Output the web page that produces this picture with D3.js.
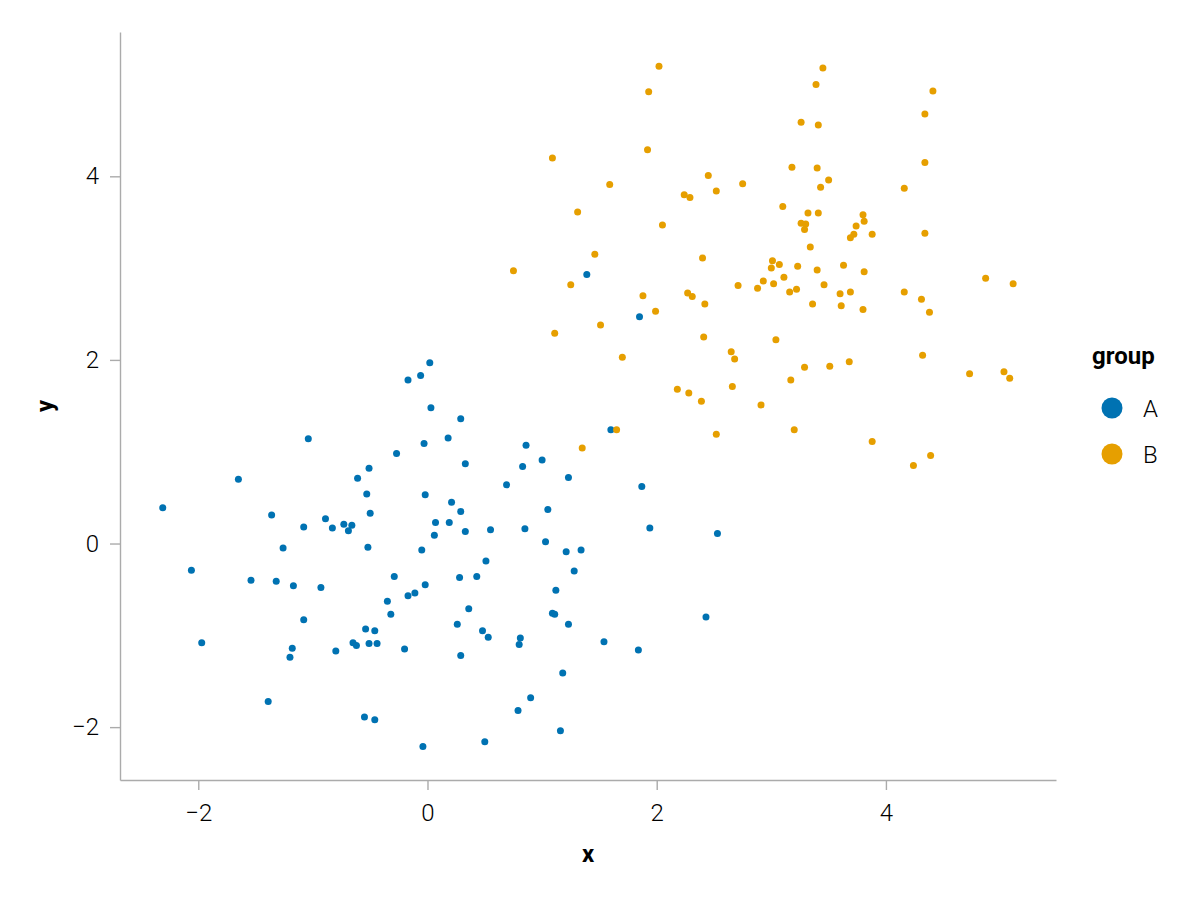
<!DOCTYPE html>
<html>
<head>
<meta charset="utf-8">
<script src="https://cdn.jsdelivr.net/npm/d3@7"></script>
<style>
  body { margin: 0; background: #fff; }
  .chart text { font-family: Roboto, "Open Sans", "DejaVu Sans", sans-serif; }
  .axis path, .axis line { stroke: #ababab; stroke-width: 1.4; }
  .axis text { font-size: 24px; font-weight: 300; fill: #000; }
</style>
</head>
<body>
<div class="chart"></div>
<script>
var groupNames = ['A', 'B'];
var xTicks = [-2, 0, 2, 4];
var yTicks = [-2, 0, 2, 4];

// group A
var xA = [-1.04,-1.65,-2.31,-1.36,-0.89,-1.08,-1.26,-2.06,-1.54,-1.32,-1.17,-0.93,-1.08,-1.97,-1.18,-1.20,-1.39,
  0.02,-0.06,-0.17,0.03,0.29,0.18,-0.03,-0.27,0.86,0.83,-0.51,0.33,-0.61,0.69,-0.53,-0.02,0.21,0.29,-0.50,-0.83,
  -0.73,-0.66,-0.69,0.07,0.19,0.06,0.33,0.55,0.85,-0.52,-0.05,0.51,-0.29,0.28,0.43,-0.02,-0.11,-0.17,-0.35,-0.32,
  0.36,0.26,0.48,0.53,-0.54,-0.46,0.81,0.80,-0.65,-0.62,-0.51,-0.44,-0.80,-0.20,0.29,0.79,-0.55,-0.46,-0.04,0.50,
  1.39,1.85,1.60,1.00,1.23,1.87,1.05,1.94,2.53,1.03,1.21,1.34,1.28,1.12,1.09,1.11,1.23,1.54,1.84,2.43,1.18,0.90,1.16];
var yA = [1.14,0.70,0.39,0.31,0.27,0.18,-0.05,-0.29,-0.40,-0.41,-0.46,-0.48,-0.83,-1.08,-1.14,-1.24,-1.72,
  1.97,1.83,1.78,1.48,1.36,1.15,1.09,0.98,1.07,0.84,0.82,0.87,0.71,0.64,0.54,0.53,0.45,0.35,0.33,0.17,
  0.21,0.20,0.14,0.23,0.23,0.09,0.13,0.15,0.16,-0.04,-0.07,-0.19,-0.36,-0.37,-0.36,-0.45,-0.54,-0.57,-0.63,-0.77,
  -0.71,-0.88,-0.95,-1.02,-0.93,-0.95,-1.03,-1.10,-1.08,-1.11,-1.09,-1.09,-1.17,-1.15,-1.22,-1.82,-1.89,-1.92,-2.21,-2.16,
  2.93,2.47,1.24,0.91,0.72,0.62,0.37,0.17,0.11,0.02,-0.09,-0.07,-0.30,-0.51,-0.76,-0.77,-0.88,-1.07,-1.16,-0.80,-1.41,-1.68,-2.04];

// group B
var xB = [1.25,1.88,2.27,2.31,2.42,1.99,1.51,1.11,2.41,1.70,2.18,2.28,2.39,1.65,1.35,2.52,0.75,
  2.02,1.93,1.92,1.09,2.45,1.59,2.52,2.24,2.29,1.31,2.05,1.46,2.40,
  3.45,3.39,3.26,3.41,3.18,3.40,3.50,2.75,3.43,3.10,3.32,3.41,3.80,3.81,3.26,3.30,3.29,3.74,3.72,3.69,3.88,3.34,
  3.01,3.00,3.07,3.23,3.40,3.63,3.81,2.71,2.93,2.88,3.02,3.11,3.22,3.16,3.46,3.60,3.69,3.36,3.61,3.80,
  3.04,2.65,2.68,3.29,3.51,3.68,3.17,2.66,2.91,3.20,3.88,
  4.41,4.34,4.34,4.16,4.34,4.87,5.11,4.16,4.31,4.38,4.32,4.73,5.03,5.08,4.39,4.24];
var yB = [2.82,2.70,2.73,2.69,2.61,2.53,2.38,2.29,2.25,2.03,1.68,1.64,1.55,1.24,1.04,1.19,2.97,
  5.20,4.92,4.29,4.20,4.01,3.91,3.84,3.80,3.77,3.61,3.47,3.15,3.11,
  5.18,5.00,4.59,4.56,4.10,4.09,3.96,3.92,3.88,3.67,3.60,3.60,3.58,3.51,3.49,3.48,3.42,3.46,3.37,3.33,3.37,3.23,
  3.08,3.00,3.04,3.02,2.98,3.03,2.96,2.81,2.86,2.78,2.83,2.90,2.77,2.74,2.82,2.72,2.74,2.61,2.59,2.55,
  2.22,2.09,2.01,1.92,1.93,1.98,1.78,1.71,1.51,1.24,1.11,
  4.93,4.68,4.15,3.87,3.38,2.89,2.83,2.74,2.66,2.52,2.05,1.85,1.87,1.80,0.96,0.85];

var WIDTH = 1200, HEIGHT = 900;
var LEFT = 120, RIGHT = 1056, TOP = 32, BOTTOM = 780;

var toPoints = function(xs, ys, g) {
  return xs.map(function(x, i) { return {x: x, y: ys[i], group: g}; });
};
var points = toPoints(xA, yA, 'A').concat(toPoints(xB, yB, 'B'));

var xScale = d3.scaleLinear().domain([-2.683, 5.484]).range([LEFT, RIGHT]);
var yScale = d3.scaleLinear().domain([-2.576, 5.572]).range([BOTTOM, TOP]);
var color = d3.scaleOrdinal().domain(groupNames).range(['#0072b2', '#e69f00']);

var svg = d3.select('.chart').append('svg')
  .attr('width', WIDTH)
  .attr('height', HEIGHT);

var xAxis = d3.axisBottom(xScale).tickValues(xTicks).tickSize(10).tickSizeOuter(0).tickPadding(14);
var yAxis = d3.axisLeft(yScale).tickValues(yTicks).tickSize(10).tickSizeOuter(0).tickPadding(11);

svg.append('g').attr('class', 'axis')
  .attr('transform', 'translate(0,' + BOTTOM + ')')
  .call(xAxis);
svg.append('g').attr('class', 'axis')
  .attr('transform', 'translate(' + LEFT + ',0)')
  .call(yAxis);

svg.append('g')
  .selectAll('circle').data(points)
  .enter()
  .append('circle')
  .attr('cx', function(d) { return xScale(d.x); })
  .attr('cy', function(d) { return yScale(d.y); })
  .attr('r', 3.5)
  .attr('fill', function(d) { return color(d.group); });

// axis titles
svg.append('text')
  .attr('x', (LEFT + RIGHT) / 2)
  .attr('y', 862)
  .attr('text-anchor', 'middle')
  .style('font-size', '24px')
  .style('font-weight', 700)
  .text('x');

svg.append('text')
  .attr('transform', 'translate(53,' + (TOP + BOTTOM) / 2 + ') rotate(-90)')
  .attr('text-anchor', 'middle')
  .style('font-size', '24px')
  .style('font-weight', 700)
  .text('y');

// legend
var legend = svg.append('g');
legend.append('text')
  .attr('x', 1092)
  .attr('y', 364)
  .style('font-size', '24px')
  .style('font-weight', 700)
  .text('group');

var items = legend.selectAll('g.item').data(groupNames)
  .enter()
  .append('g')
  .attr('class', 'item')
  .attr('transform', function(d, i) { return 'translate(1112,' + (408 + i * 46) + ')'; });

items.append('circle')
  .attr('r', 10.5)
  .attr('fill', function(d) { return color(d); });

items.append('text')
  .attr('x', 31)
  .attr('dy', '0.36em')
  .style('font-size', '24px')
  .style('font-weight', 300)
  .text(function(d) { return d; });
</script>
</body>
</html>
